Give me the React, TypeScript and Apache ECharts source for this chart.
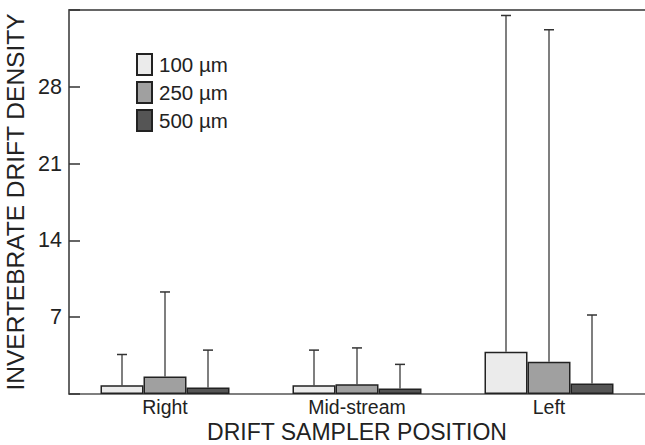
import React, { useEffect, useRef } from "react";
import * as echarts from "echarts";

const categories = ["Right", "Mid-stream", "Left"];
const seriesNames = ["100 µm", "250 µm", "500 µm"];
const means100 = [0.8, 0.8, 3.85];
const means250 = [1.6, 0.9, 2.95];
const means500 = [0.6, 0.5, 0.95];
const upper100 = [3.6, 4.0, 34.5];
const upper250 = [9.3, 4.2, 33.2];
const upper500 = [4.0, 2.7, 7.2];
const fills = ["#ebebeb", "#a0a0a0", "#555555"];

const FONT = "'Liberation Sans', Arial, sans-serif";
const BAR_W = 43;

export default function App() {
  const ref = useRef<HTMLDivElement>(null);
  useEffect(() => {
    if (!ref.current) return;
    const chart = echarts.init(ref.current, null, { renderer: "svg" });
    const means = [means100, means250, means500];
    const uppers = [upper100, upper250, upper500];
    const barSeries = means.map((m, i) => ({
      name: seriesNames[i],
      type: "bar",
      data: m,
      barWidth: BAR_W,
      barGap: "0%",
      itemStyle: { color: fills[i], borderColor: "#222", borderWidth: 1.5 },
      z: 2,
    }));
    const errData: number[][] = [];
    uppers.forEach((u, s) => u.forEach((v, c) => errData.push([c, means[s][c], v, s])));
    const errSeries = {
      type: "custom",
      name: "err",
      data: errData,
      z: 1,
      renderItem: (params: any, api: any) => {
        const c = api.value(0);
        const m = api.value(1);
        const u = api.value(2);
        const s = api.value(3);
        const off = (s - 1) * BAR_W;
        const p0 = api.coord([c, m]);
        const p1 = api.coord([c, u]);
        const x = p0[0] + off;
        return {
          type: "group",
          children: [
            { type: "line", shape: { x1: x, y1: p0[1], x2: x, y2: p1[1] }, style: { stroke: "#555", lineWidth: 1.5 } },
            { type: "line", shape: { x1: x - 5, y1: p1[1], x2: x + 5, y2: p1[1] }, style: { stroke: "#333", lineWidth: 1.5 } },
          ],
        };
      },
    };
    chart.setOption({
      animation: false,
      textStyle: { fontFamily: FONT },
      grid: { left: 69, top: 10, right: 0, bottom: 51, containLabel: false, outerBoundsMode: "none" },
      legend: {
        data: seriesNames,
        orient: "vertical",
        left: 136,
        top: 53,
        padding: 0,
        itemWidth: 15,
        itemHeight: 21,
        itemGap: 5,
        icon: "rect",
        textStyle: { fontSize: 20.5, color: "#222", fontFamily: FONT, padding: [0, 0, 0, 2] },
      },
      xAxis: [
        {
          type: "category",
          data: categories,
          name: "DRIFT SAMPLER POSITION",
          nameLocation: "middle",
          nameGap: 26,
          nameMoveOverlap: false,
          nameTextStyle: { fontSize: 23, color: "#222", fontFamily: FONT, verticalAlign: "top", lineHeight: 23 },
          axisLine: { lineStyle: { color: "#555", width: 1.5 } },
          axisTick: { inside: true, length: 11, lineStyle: { color: "#333", width: 1.5 } },
          axisLabel: { fontSize: 19.5, lineHeight: 20, color: "#222", margin: 3, fontFamily: FONT },
        },
        {
          type: "category",
          data: categories,
          position: "top",
          axisLine: { lineStyle: { color: "#666", width: 2 } },
          axisTick: { show: false },
          axisLabel: { show: false },
        },
      ],
      yAxis: {
        type: "value",
        min: 0,
        max: 35,
        interval: 7,
        name: "INVERTEBRATE DRIFT DENSITY",
        nameLocation: "middle",
        nameGap: 41,
        nameMoveOverlap: false,
        nameTextStyle: { fontSize: 24.5, color: "#222", fontFamily: FONT },
        axisLine: { show: true, lineStyle: { color: "#333", width: 1.5 } },
        axisTick: { show: true, inside: true, length: 11, lineStyle: { color: "#333", width: 1.5 } },
        axisLabel: {
          fontSize: 21.5,
          color: "#222",
          margin: 7,
          fontFamily: FONT,
          formatter: (v: number) => (v === 0 || v === 35 ? "" : String(v)),
        },
        splitLine: { show: false },
      },
      series: [...barSeries, errSeries],
    });
    return () => chart.dispose();
  }, []);
  return <div ref={ref} style={{ width: 645, height: 445, position: "absolute", left: 0, top: 0 }} />;
}
